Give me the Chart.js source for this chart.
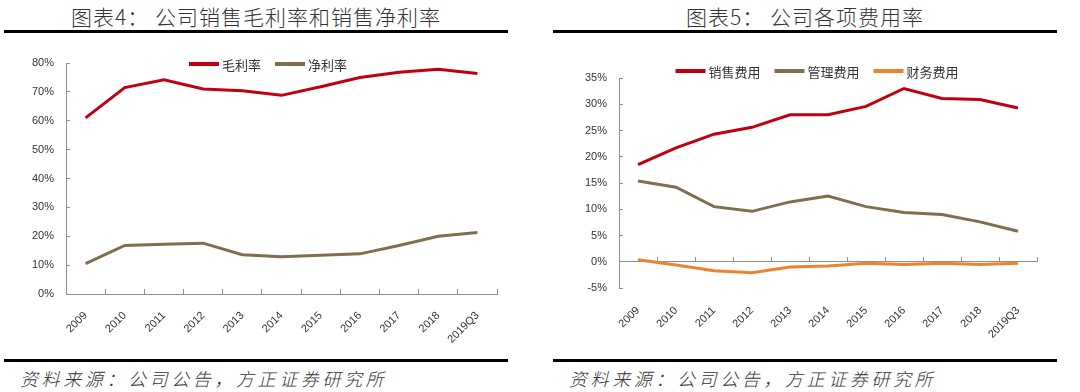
<!DOCTYPE html>
<html>
<head>
<meta charset="utf-8">
<script src="https://cdn.jsdelivr.net/npm/chart.js@4.4.1/dist/chart.umd.min.js"></script>
<style>
  html, body { margin: 0; padding: 0; background: #fff; }
  body { width: 1080px; height: 392px; position: relative; overflow: hidden; font-family: "Noto Sans CJK SC", sans-serif; }
  .title { position: absolute; top: 4px; height: 24px; line-height: 24px; font-size: 21px; letter-spacing: 1px; font-weight: 300; color: #333; text-align: center; white-space: pre; }
  .rule { position: absolute; height: 3px; background: #000; }
  .source { position: absolute; top: 365px; font-size: 18px; letter-spacing: 3.6px; font-style: italic; font-weight: 300; color: #333; white-space: nowrap; }
  canvas { position: absolute; top: 40px; }
</style>
</head>
<body>
  <div class="title" style="left:4px;width:504px">图表4： 公司销售毛利率和销售净利率</div>
  <div class="rule" style="left:4px;width:504px;top:30px"></div>
  <canvas id="marginChart" width="540" height="315" style="left:0"></canvas>
  <div class="rule" style="left:4px;width:504px;top:359px"></div>
  <div class="source" style="left:20px">资料来源：公司公告，方正证券研究所</div>

  <div class="title" style="left:553px;width:504px">图表5： 公司各项费用率</div>
  <div class="rule" style="left:553px;width:504px;top:30px"></div>
  <canvas id="expenseChart" width="540" height="315" style="left:540px"></canvas>
  <div class="rule" style="left:553px;width:504px;top:359px"></div>
  <div class="source" style="left:569px">资料来源：公司公告，方正证券研究所</div>

<script>
// categories
const years = ["2009", "2010", "2011", "2012", "2013", "2014", "2015", "2016", "2017", "2018", "2019Q3"];

// 图表4 (%)
const grossMargin = [61.0, 71.5, 74.2, 71.0, 70.4, 68.8, 71.8, 75.0, 76.8, 77.8, 76.4];
const netMargin = [10.5, 16.8, 17.2, 17.6, 13.6, 12.9, 13.4, 13.9, 16.8, 20.0, 21.3];

// 图表5 (%)
const sellingExp = [18.5, 21.7, 24.3, 25.6, 28.0, 28.0, 29.6, 33.0, 31.1, 30.9, 29.3];
const adminExp = [15.4, 14.2, 10.5, 9.6, 11.4, 12.5, 10.5, 9.4, 9.0, 7.6, 5.8];
const financeExp = [0.4, -0.6, -1.7, -2.1, -1.0, -0.8, -0.3, -0.5, -0.3, -0.5, -0.3];

const RED = "#C00010";
const BROWN = "#7F6E50";
const ORANGE = "#F0822E";
const AXIS = "#8f8f8f";
const tickFont = { family: "'Liberation Sans', Arial, sans-serif", size: 11 };

// simple line legend drawn by hand so it can sit over / just above the plot
const lineLegend = {
  id: "lineLegend",
  afterDraw(chart, args, opts) {
    const ctx = chart.ctx;
    ctx.save();
    ctx.font = "13px 'Noto Sans CJK SC'";
    ctx.textBaseline = "middle";
    const items = chart.data.datasets.map((ds) => ({
      label: ds.label,
      color: ds.borderColor,
      w: ctx.measureText(ds.label).width,
    }));
    const lineW = 30, gap = 3, sep = 14;
    const total = items.reduce((s, it) => s + lineW + gap + it.w, 0) + sep * (items.length - 1);
    let x = opts.cx - total / 2;
    const y = chart.chartArea.top + opts.dy;
    items.forEach((it) => {
      ctx.strokeStyle = it.color;
      ctx.lineWidth = 4;
      ctx.beginPath();
      ctx.moveTo(x, y);
      ctx.lineTo(x + lineW, y);
      ctx.stroke();
      x += lineW + gap;
      ctx.fillStyle = "#333";
      ctx.fillText(it.label, x, y + 1);
      x += it.w + sep;
    });
    ctx.restore();
  },
};

const lineDs = (label, data, color) => ({
  label: label,
  data: data,
  borderColor: color,
  backgroundColor: color,
  borderWidth: 3,
  pointRadius: 0,
  tension: 0,
});

new Chart(document.getElementById("marginChart"), {
  type: "line",
  data: {
    labels: years,
    datasets: [lineDs("毛利率", grossMargin, RED), lineDs("净利率", netMargin, BROWN)],
  },
  plugins: [lineLegend],
  options: {
    responsive: false,
    animation: false,
    layout: { padding: { top: 23, right: 43, left: 0, bottom: 0 } },
    plugins: {
      legend: { display: false },
      tooltip: { enabled: false },
      lineLegend: { cx: 268, dy: 1 },
    },
    scales: {
      x: {
        offset: true,
        grid: { offset: true, drawOnChartArea: false, tickLength: -5, color: AXIS },
        border: { color: AXIS, width: 1 },
        ticks: { font: tickFont, color: "#333", minRotation: 45, maxRotation: 45, padding: 20 },
        afterFit: (s) => { s.height = 61; },
      },
      y: {
        min: 0,
        max: 80,
        grid: { drawOnChartArea: false, tickLength: -4, color: AXIS },
        border: { color: AXIS, width: 1 },
        ticks: { stepSize: 10, font: tickFont, color: "#333", padding: 16, callback: (v) => v + "%" },
        afterFit: (s) => { s.width = 66; },
      },
    },
  },
});

new Chart(document.getElementById("expenseChart"), {
  type: "line",
  data: {
    labels: years,
    datasets: [
      lineDs("销售费用", sellingExp, RED),
      lineDs("管理费用", adminExp, BROWN),
      lineDs("财务费用", financeExp, ORANGE),
    ],
  },
  plugins: [lineLegend],
  options: {
    responsive: false,
    animation: false,
    layout: { padding: { top: 38, right: 43, left: 0, bottom: 0 } },
    plugins: {
      legend: { display: false },
      tooltip: { enabled: false },
      lineLegend: { cx: 277, dy: -7 },
    },
    scales: {
      x: {
        offset: true,
        grid: { display: false },
        border: { display: false },
        ticks: { font: tickFont, color: "#333", minRotation: 45, maxRotation: 45, padding: 8 },
        afterFit: (s) => { s.height = 67; },
      },
      x0: {
        axis: "x",
        position: { y: 0 },
        offset: true,
        grid: { offset: true, drawOnChartArea: false, tickLength: -5, color: AXIS },
        border: { color: AXIS, width: 1 },
        ticks: { display: false },
        afterFit: (s) => { s.height = 0; },
      },
      y: {
        min: -5,
        max: 35,
        grid: { drawOnChartArea: false, tickLength: -4, color: AXIS },
        border: { color: AXIS, width: 1 },
        ticks: { stepSize: 5, font: tickFont, color: "#333", padding: 16, callback: (v) => v + "%" },
        afterFit: (s) => { s.width = 79; },
      },
    },
  },
});
</script>
</body>
</html>
